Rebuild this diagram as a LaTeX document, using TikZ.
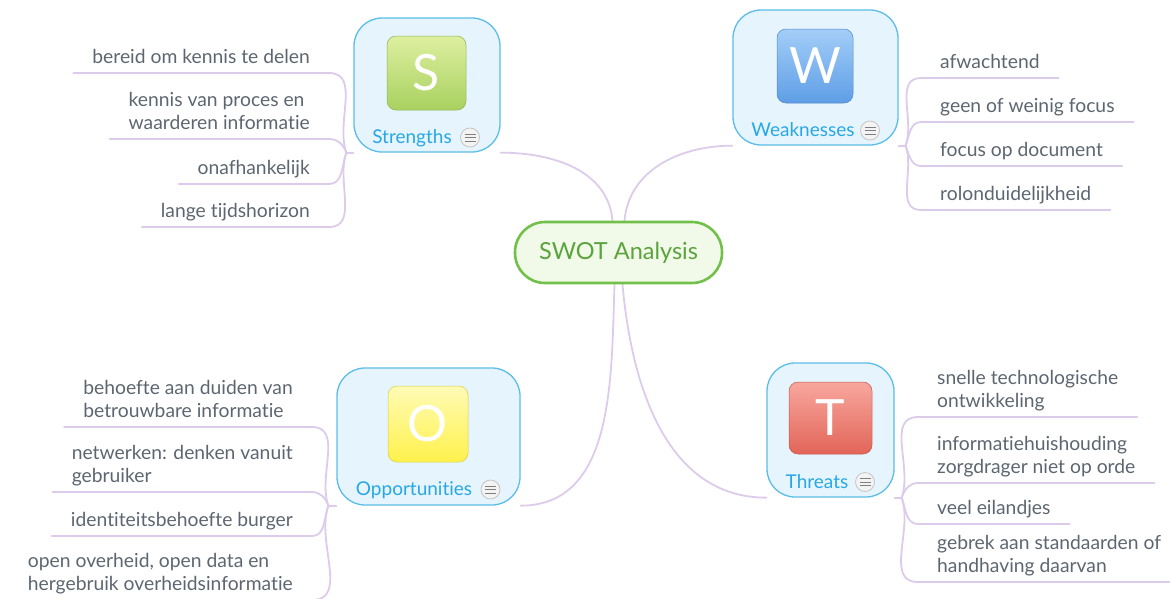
\documentclass[tikz,border=0pt]{standalone}
\usepackage{fontspec}
\setmainfont{Lato}[Ligatures=NoCommon]
\usetikzlibrary{backgrounds}
\definecolor{leafgray}{HTML}{5D6670}
\definecolor{lilac}{HTML}{DCCBEA}
\definecolor{boxline}{HTML}{5BBDE9}
\definecolor{boxfill}{HTML}{E6F5FD}
\definecolor{boxtext}{HTML}{27A7E5}
\definecolor{rootline}{HTML}{72C04A}
\definecolor{rootfill}{HTML}{F1FAE8}
\definecolor{roottext}{HTML}{5BA33C}
\definecolor{stop}{HTML}{DDEFA0}
\definecolor{sbot}{HTML}{A9D15F}
\definecolor{wtop}{HTML}{A3CEF8}
\definecolor{wbot}{HTML}{5E9EE6}
\definecolor{otop}{HTML}{FFFBB5}
\definecolor{obot}{HTML}{FFF14C}
\definecolor{ttop}{HTML}{F8A79E}
\definecolor{tbot}{HTML}{E26558}
\definecolor{iconline}{HTML}{C4C4C4}
\definecolor{iconfill}{HTML}{F3F3F3}

\tikzset{
  root/.style={draw=rootline, line width=2.6, fill=rootfill, rounded corners=30,
    minimum width=207, minimum height=61, text=roottext,
    font=\fontsize{23.5}{28}\selectfont},
  topic/.style={draw=boxline, line width=1.3, fill=boxfill, rounded corners=28},
  letter/.style 2 args={top color=#1, bottom color=#2, draw=#2!85!black,
    line width=0.5, rounded corners=9, text=white,
    font=\fontsize{50}{50}\selectfont},
  topiclabel/.style={text=boxtext, font=\fontsize{19}{22}\selectfont, inner sep=0},
  noteicon/.style={circle, draw=iconline, fill=iconfill, line width=0.8,
    minimum size=19, inner sep=0,
    path picture={
      \foreach \dy in {-3.5,0,3.5}
        \draw[gray, line width=1] ([xshift=-5.5,yshift=\dy]path picture bounding box.center)
          -- ++(11,0);
    }},
  leaf/.style={text=leafgray, font=\fontsize{19.3}{23}\selectfont, align=left,
    inner xsep=19, inner ysep=5, text depth=4},
  twig/.style={draw=lilac, line width=1.8, line cap=round}
}

\begin{document}
\begin{tikzpicture}[x=1pt, y=-1pt]
  \useasboundingbox (0,0) rectangle (1170,598);

  % centre
  \node[root] (root) at (618.5,252.5) {SWOT Analysis};

  % Strengths
  \node[topic, minimum width=146, minimum height=134] (str) at (427,85) {};
  \node[letter={stop}{sbot}, minimum width=79, minimum height=74] (strL) at (426.5,73) {S};
  \node[topiclabel, anchor=base] (strT) at (412,143) {Strengths};
  \node[noteicon] (strN) at (470,137.5) {};

  % Weaknesses
  \node[topic, minimum width=165, minimum height=135] (weak) at (815.5,77.5) {};
  \node[letter={wtop}{wbot}, minimum width=76, minimum height=74] (weakL) at (815,66) {W};
  \node[topiclabel, anchor=base] (weakT) at (803,136.5) {Weaknesses};
  \node[noteicon] (weakN) at (870,130.5) {};

  % Opportunities
  \node[topic, minimum width=183, minimum height=137] (opp) at (428.5,436.5) {};
  \node[letter={otop}{obot}, minimum width=80, minimum height=76] (oppL) at (428,424) {O};
  \node[topiclabel, anchor=base] (oppT) at (414,495) {Opportunities};
  \node[noteicon] (oppN) at (490.5,489.5) {};

  % Threats
  \node[topic, minimum width=127, minimum height=134] (thr) at (830.5,430) {};
  \node[letter={ttop}{tbot}, minimum width=83, minimum height=72] (thrL) at (830.5,418) {T};
  \node[topiclabel, anchor=base] (thrT) at (817,488) {Threats};
  \node[noteicon] (thrN) at (865,482) {};

  % leaves
  \node[leaf, anchor=south east] (s1) at (329,73) {bereid om kennis te delen};
  \node[leaf, anchor=south east] (s2) at (329,139) {kennis van proces en\\waarderen informatie};
  \node[leaf, anchor=south east] (s3) at (329,184) {onafhankelijk};
  \node[leaf, anchor=south east] (s4) at (329,227) {lange tijdshorizon};

  \node[leaf, anchor=south west] (w1) at (921,78) {afwachtend};
  \node[leaf, anchor=south west] (w2) at (921,122) {geen of weinig focus};
  \node[leaf, anchor=south west] (w3) at (921,166) {focus op document};
  \node[leaf, anchor=south west] (w4) at (921,210) {rolonduidelijkheid};

  \node[leaf, anchor=south east] (o1) at (312,427) {behoefte aan duiden van\\betrouwbare informatie};
  \node[leaf, anchor=south east] (o2) at (312,492) {netwerken: denken vanuit\\gebruiker};
  \node[leaf, anchor=south east] (o3) at (312,536) {identiteitsbehoefte burger};
  \node[leaf, anchor=south east] (o4) at (312,600) {open overheid, open data en\\hergebruik overheidsinformatie};

  \node[leaf, anchor=south west] (t1) at (918,417) {snelle technologische\\ontwikkeling};
  \node[leaf, anchor=south west] (t2) at (918,483) {informatiehuishouding\\zorgdrager niet op orde};
  \node[leaf, anchor=south west] (t3) at (918,524) {veel eilandjes};
  \node[leaf, anchor=south west] (t4) at (918,582) {gebrek aan standaarden of\\handhaving daarvan};

  \coordinate (sj) at ([xshift=-7]str.south west);
  \coordinate (wj) at ([xshift=7]weak.south east);
  \coordinate (oj) at ([xshift=-8]opp.south west);
  \coordinate (tj) at ([xshift=7]thr.south east);

  \begin{scope}[on background layer={twig}]
    \draw[twig] ([xshift=-6]root.north) to[out=95, in=0] (str.south east);
    \draw[twig] ([xshift=6]root.north) to[out=85, in=180] (weak.south west);
    \draw[twig] ([xshift=-4]root.south) to[out=-92, in=0] (opp.south east);
    \draw[twig] ([xshift=4]root.south) to[out=-85, in=180] (thr.south west);

    \draw[twig] (sj) -- (str.south west);
    \draw[twig] (weak.south east) -- (wj);
    \draw[twig] (oj) -- (opp.south west);
    \draw[twig] (thr.south east) -- (tj);

    \draw[twig] (s1.south west) -- (s1.south east) to[out=0, in=110] (sj);
    \draw[twig] (s2.south west) -- (s2.south east) to[out=0, in=110] (sj);
    \draw[twig] (s3.south west) -- (s3.south east) to[out=0, in=-110] (sj);
    \draw[twig] (s4.south west) -- (s4.south east) to[out=0, in=-110] (sj);

    \draw[twig] (w1.south east) -- (w1.south west) to[out=180, in=70] (wj);
    \draw[twig] (w2.south east) -- (w2.south west) to[out=180, in=70] (wj);
    \draw[twig] (w3.south east) -- (w3.south west) to[out=180, in=-70] (wj);
    \draw[twig] (w4.south east) -- (w4.south west) to[out=180, in=-70] (wj);

    \draw[twig] (o1.south west) -- (o1.south east) to[out=0, in=110] (oj);
    \draw[twig] (o2.south west) -- (o2.south east) to[out=0, in=110] (oj);
    \draw[twig] (o3.south west) -- (o3.south east) to[out=0, in=-110] (oj);
    \draw[twig] (o4.south west) -- (o4.south east) to[out=0, in=-110] (oj);

    \draw[twig] (t1.south east) -- (t1.south west) to[out=180, in=70] (tj);
    \draw[twig] (t2.south east) -- (t2.south west) to[out=180, in=70] (tj);
    \draw[twig] (t3.south east) -- (t3.south west) to[out=180, in=-70] (tj);
    \draw[twig] (t4.south east) -- (t4.south west) to[out=180, in=-70] (tj);
  \end{scope}
\end{tikzpicture}
\end{document}
